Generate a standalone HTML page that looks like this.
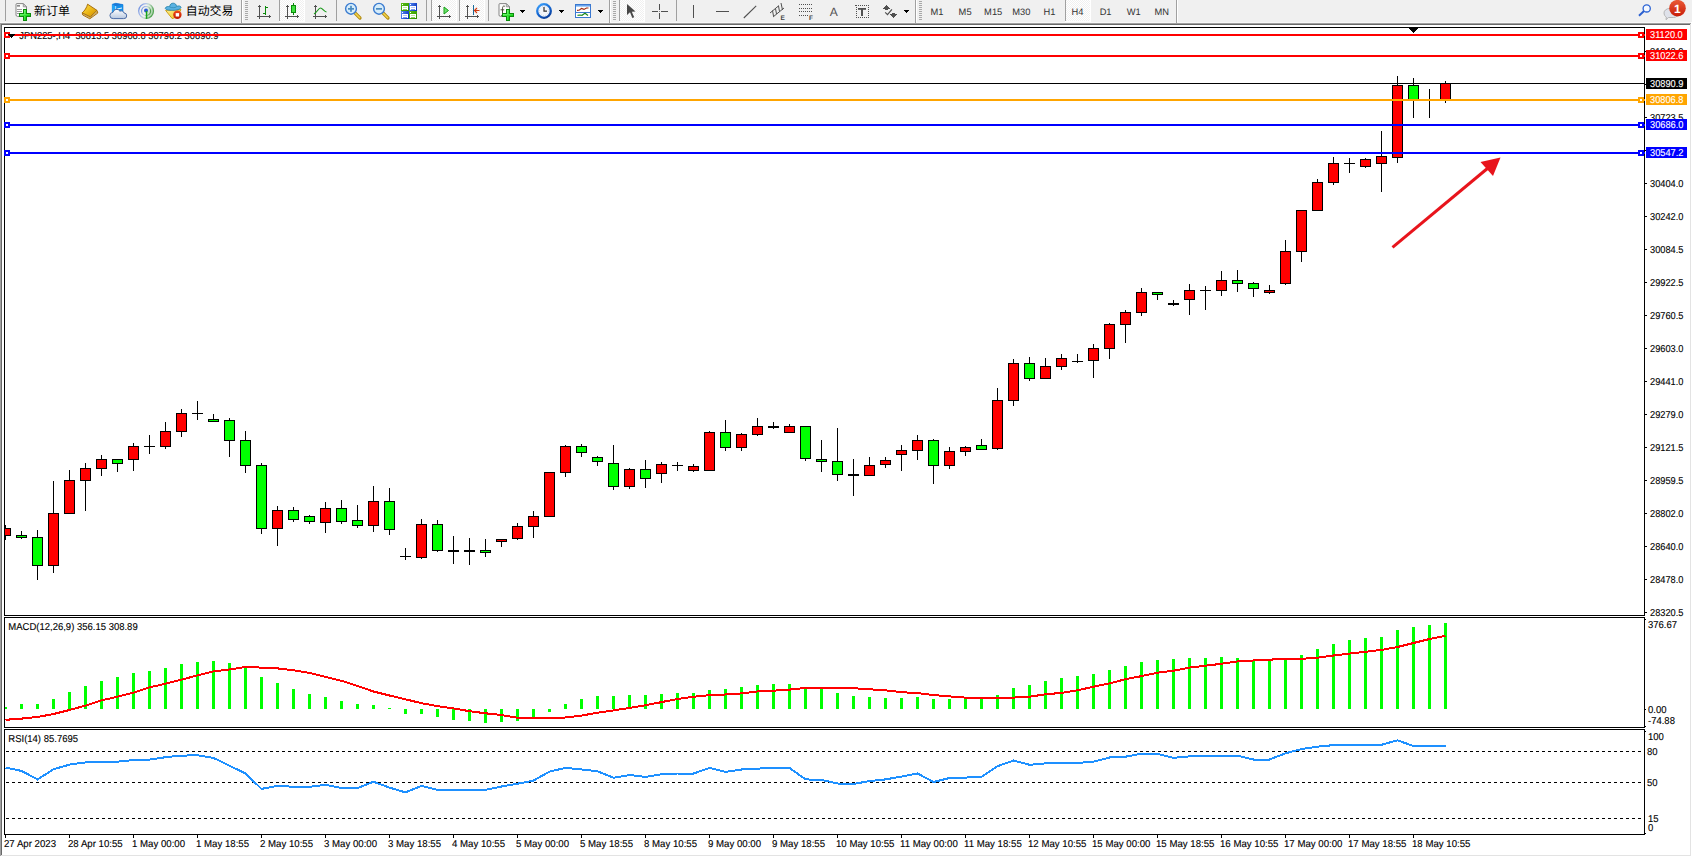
<!DOCTYPE html>
<html><head><meta charset="utf-8"><title>JPN225 H4</title>
<style>html,body{margin:0;padding:0;background:#fff;overflow:hidden}svg{display:block}text{white-space:pre}</style>
</head><body>
<svg width="1692" height="857" viewBox="0 0 1692 857" font-family='"Liberation Sans","Noto Sans CJK SC",sans-serif' shape-rendering="crispEdges" text-rendering="geometricPrecision">
<defs><pattern id="chk" width="2" height="2" patternUnits="userSpaceOnUse"><rect width="2" height="2" fill="#fff"/><rect width="1" height="1" fill="#f0f0f0"/><rect x="1" y="1" width="1" height="1" fill="#f0f0f0"/></pattern></defs>
<rect x="0" y="0" width="1692" height="857" fill="#fff"/>
<rect x="0" y="0" width="1692" height="22" fill="#f0f0f0"/>
<rect x="0" y="22" width="1692" height="1" fill="#f8f8f8"/>
<rect x="0" y="23" width="1691" height="1" fill="#a0a0a0"/>
<rect x="0" y="24" width="1690" height="1" fill="#696969"/>
<rect x="1690" y="24" width="1" height="832" fill="#e3e3e3"/>
<rect x="0" y="855" width="1691" height="1" fill="#e3e3e3"/>
<rect x="0" y="24" width="1" height="832" fill="#a0a0a0"/>
<rect x="1" y="25" width="1" height="830" fill="#696969"/>
<rect x="1691" y="22" width="1" height="835" fill="#fff"/>
<rect x="0" y="856" width="1692" height="1" fill="#fff"/>
<g id="toolbar">
<rect x="5" y="0" width="1" height="21" fill="#a0a0a0" />
<defs><linearGradient id="gp" x1="0" y1="0" x2="1" y2="1"><stop offset="0" stop-color="#7dff7d"/><stop offset="1" stop-color="#00c800"/></linearGradient></defs>
<g shape-rendering="geometricPrecision">
<path d="M16.5,3.6 h6.8 l3.2,3.2 v9.6 h-9 q-1.5,0 -1.5,-1.5 v-10 q0,-1.3 0.5,-1.3 z" fill="#fcfcfc" stroke="#858585" stroke-width="1"/>
<path d="M23.3,3.6 v3.2 h3.2 z" fill="#dcdcdc" stroke="#858585" stroke-width="0.8"/>
</g>
<rect x="17" y="5" width="3" height="1" fill="#8a8a8a" />
<rect x="17" y="6" width="3" height="1" fill="#b0b0b0" />
<rect x="17" y="9" width="5" height="1" fill="#9a9a9a" />
<rect x="17" y="11" width="5" height="1" fill="#9a9a9a" />
<rect x="17" y="13" width="3" height="1" fill="#9a9a9a" />
<rect x="23" y="9" width="4" height="12" fill="#0b8c0b" />
<rect x="19" y="13" width="12" height="4" fill="#0b8c0b" />
<rect x="24" y="10" width="2" height="10" fill="url(#gp)" />
<rect x="20" y="14" width="10" height="2" fill="url(#gp)" />
<text x="34" y="15" font-size="12" fill="#000">新订单</text>
<defs><linearGradient id="gb" x1="0" y1="0" x2="1" y2="1"><stop offset="0" stop-color="#ffe24a"/><stop offset="0.6" stop-color="#e8b010"/><stop offset="1" stop-color="#c88a08"/></linearGradient></defs>
<g shape-rendering="geometricPrecision">
<path d="M82.2,12.8 L82.8,15 L89.8,18.8 L97.8,13 L97,10.4 Z" fill="#e6d296" stroke="#a8700c" stroke-width="1"/>
<path d="M87.6,4.2 L97,10.4 L90.3,16.8 L82.2,12.8 C84.5,11 86.8,7.5 87.6,4.2 Z" fill="url(#gb)" stroke="#a8700c" stroke-width="1"/>
<path d="M83.2,14 L90.2,17.6 L97.2,11.8" fill="none" stroke="#b8862a" stroke-width="0.7"/>
</g>
<defs><linearGradient id="gc" x1="0" y1="0" x2="0" y2="1"><stop offset="0" stop-color="#ffffff"/><stop offset="1" stop-color="#b8c8e0"/></linearGradient></defs>
<g shape-rendering="geometricPrecision">
<path d="M112.3,4.2 L115.8,3.3 L123,4.6 L123,13 L112.3,13 Z" fill="#1590ea" stroke="#1378d8" stroke-width="0.6"/>
<path d="M112.3,4.2 L115.6,6 L115.6,13 L112.3,13 Z" fill="#22a4f6"/>
<path d="M112.3,4.2 L115.8,3.3 L123,4.6 L115.6,6 Z" fill="#1a78d8"/>
<path d="M115.7,6 V13" stroke="#d8f0ff" stroke-width="0.8"/>
<path d="M117.2,8.6 L122,7.4 L122,8.6 L117.2,9.6 Z" fill="#e8f6ff"/>
<path d="M113.2,18.6 a3.1,3.1 0 0 1 -0.3,-6.2 a3.8,3.8 0 0 1 7,-1.2 a3,3 0 0 1 4.2,1.8 a2.8,2.8 0 0 1 -0.4,5.6 z" fill="url(#gc)" stroke="#4c6ca6" stroke-width="1"/>
</g>
<defs><linearGradient id="gs" x1="0" y1="0" x2="1" y2="0.4"><stop offset="0" stop-color="#3a68d8"/><stop offset="0.4" stop-color="#9ab2ea"/><stop offset="0.62" stop-color="#b4d4c0"/><stop offset="1" stop-color="#3a963a"/></linearGradient><linearGradient id="gsf" x1="0" y1="0" x2="1" y2="1"><stop offset="0" stop-color="#e8f4e8" stop-opacity="0.2"/><stop offset="1" stop-color="#5cb45c" stop-opacity="0.85"/></linearGradient></defs>
<g shape-rendering="geometricPrecision" fill="none">
<path d="M146.6,3.2 A7.9,7.9 0 0 1 146.6,18.9 Z" fill="url(#gsf)"/>
<circle cx="146.1" cy="11" r="7.4" stroke="url(#gs)" stroke-width="1.2" opacity="0.8"/>
<circle cx="146.1" cy="11" r="4.5" stroke="url(#gs)" stroke-width="1.2" opacity="0.85"/>
<circle cx="146" cy="10.6" r="2" fill="#2a5cd2"/>
<rect x="145.8" y="11" width="1.5" height="7.9" fill="#18a418"/>
</g>
<defs><linearGradient id="gy" x1="0" y1="0" x2="1" y2="1"><stop offset="0" stop-color="#fff08a"/><stop offset="1" stop-color="#f0c020"/></linearGradient><linearGradient id="gr" x1="0" y1="0" x2="0" y2="1"><stop offset="0" stop-color="#f04a18"/><stop offset="1" stop-color="#c01800"/></linearGradient></defs>
<g shape-rendering="geometricPrecision">
<path d="M165.6,10.4 L181,9.6 L176.5,17 L172.2,18.6 Z" fill="url(#gy)" stroke="#c89a08" stroke-width="0.9"/>
<path d="M165.3,8.2 C166,6.2 168.5,6.4 169.6,6.6 C170,4 171.5,3.2 173.2,3.2 C175,3.2 176.2,4.2 176.6,6.4 C178.5,5.6 180.8,5.8 181,7.4 C180.6,9.4 176.5,10.3 172.8,10.3 C169,10.3 165.2,9.8 165.3,8.2 Z" fill="#5ab2e2" stroke="#2a86ae" stroke-width="0.9"/>
<path d="M169.8,7 C171.5,8 175,8 176.5,6.8" fill="none" stroke="#2a86ae" stroke-width="0.7"/>
<circle cx="177.4" cy="14.8" r="4.2" fill="url(#gr)"/>
<rect x="175.7" y="13.1" width="3.4" height="3.4" fill="#fff"/>
</g>
<text x="185.8" y="15" font-size="12" fill="#000" textLength="47.5" lengthAdjust="spacingAndGlyphs">自动交易</text>
<rect x="241" y="0" width="1" height="23" fill="#a0a0a0" />
<rect x="242" y="0" width="1" height="22" fill="#fff" />
<rect x="245" y="1" width="3" height="1" fill="#a8a8a8" />
<rect x="245" y="3" width="3" height="1" fill="#a8a8a8" />
<rect x="245" y="5" width="3" height="1" fill="#a8a8a8" />
<rect x="245" y="7" width="3" height="1" fill="#a8a8a8" />
<rect x="245" y="9" width="3" height="1" fill="#a8a8a8" />
<rect x="245" y="11" width="3" height="1" fill="#a8a8a8" />
<rect x="245" y="13" width="3" height="1" fill="#a8a8a8" />
<rect x="245" y="15" width="3" height="1" fill="#a8a8a8" />
<rect x="245" y="17" width="3" height="1" fill="#a8a8a8" />
<rect x="245" y="19" width="3" height="1" fill="#a8a8a8" />
<rect x="259" y="5" width="1" height="14" fill="#505050" />
<rect x="258" y="6" width="3" height="1" fill="#505050" />
<rect x="257" y="16" width="14" height="1" fill="#505050" />
<rect x="269" y="15" width="1" height="3" fill="#505050" />
<rect x="265" y="6" width="1" height="9" fill="#0a8a0a" />
<rect x="266" y="7" width="2" height="1" fill="#0a8a0a" />
<rect x="263" y="13" width="2" height="1" fill="#0a8a0a" />
<rect x="279" y="0" width="1" height="21" fill="#a0a0a0" />
<rect x="280" y="0" width="24" height="21" fill="url(#chk)" />
<rect x="279" y="21" width="26" height="1" fill="#fff" />
<rect x="304" y="0" width="1" height="21" fill="#fff" />
<rect x="287" y="5" width="1" height="14" fill="#505050" />
<rect x="286" y="6" width="3" height="1" fill="#505050" />
<rect x="285" y="16" width="14" height="1" fill="#505050" />
<rect x="297" y="15" width="1" height="3" fill="#505050" />
<rect x="293" y="3" width="1" height="12" fill="#0a8a0a" />
<rect x="291" y="5" width="5" height="8" fill="#0a8a0a" />
<rect x="292" y="6" width="3" height="6" fill="#3fe03f" />
<rect x="315" y="5" width="1" height="14" fill="#505050" />
<rect x="314" y="6" width="3" height="1" fill="#505050" />
<rect x="313" y="16" width="14" height="1" fill="#505050" />
<rect x="325" y="15" width="1" height="3" fill="#505050" />
<path d="M314,14 C317,12.5 318.5,8 320.5,8 C322.5,8 324,11.5 326.5,12" fill="none" stroke="#1a9a1a" stroke-width="1.2" shape-rendering="geometricPrecision"/>
<rect x="336" y="0" width="1" height="21" fill="#a0a0a0" />
<g shape-rendering="geometricPrecision">
<line x1="355" y1="13" x2="360" y2="18" stroke="#b08a10" stroke-width="3.2" stroke-linecap="round"/>
<line x1="355.3" y1="13.3" x2="359.7" y2="17.7" stroke="#f2d24a" stroke-width="1.6" stroke-linecap="round"/>
<circle cx="351" cy="8.8" r="5.4" fill="#d6ecfa" stroke="#3a7bd0" stroke-width="1.4"/>
<rect x="348" y="8" width="6" height="1.7" fill="#4a8cc0"/>
<rect x="350.15" y="5.8" width="1.7" height="6" fill="#4a8cc0"/>
</g>
<g shape-rendering="geometricPrecision">
<line x1="383" y1="13" x2="388" y2="18" stroke="#b08a10" stroke-width="3.2" stroke-linecap="round"/>
<line x1="383.3" y1="13.3" x2="387.7" y2="17.7" stroke="#f2d24a" stroke-width="1.6" stroke-linecap="round"/>
<circle cx="379" cy="8.8" r="5.4" fill="#d6ecfa" stroke="#3a7bd0" stroke-width="1.4"/>
<rect x="376" y="8" width="6" height="1.7" fill="#4a8cc0"/>
</g>
<defs><linearGradient id="gtg" x1="0" y1="0" x2="1" y2="1"><stop offset="0" stop-color="#58c010"/><stop offset="1" stop-color="#2c8c00"/></linearGradient><linearGradient id="gtb" x1="0" y1="0.3" x2="1" y2="0.6"><stop offset="0" stop-color="#5284ee"/><stop offset="1" stop-color="#0c36c0"/></linearGradient></defs>
<rect x="401" y="3" width="8" height="8" fill="url(#gtg)" />
<rect x="402" y="4" width="1" height="1" fill="#fff" />
<rect x="402" y="6" width="6" height="3" fill="#fff" />
<rect x="403" y="7" width="4" height="1" fill="#bfe4a4" />
<rect x="402" y="9" width="1" height="1" fill="#fff" />
<rect x="407" y="9" width="1" height="1" fill="#fff" />
<rect x="403" y="9" width="4" height="1" fill="#8cd060" />
<rect x="409" y="3" width="8" height="8" fill="url(#gtb)" />
<rect x="410" y="4" width="1" height="1" fill="#fff" />
<rect x="410" y="6" width="6" height="3" fill="#fff" />
<rect x="411" y="7" width="4" height="1" fill="#b4c6f4" />
<rect x="410" y="9" width="1" height="1" fill="#fff" />
<rect x="415" y="9" width="1" height="1" fill="#fff" />
<rect x="411" y="9" width="4" height="1" fill="#7c9cec" />
<rect x="401" y="11" width="8" height="8" fill="url(#gtb)" />
<rect x="402" y="12" width="1" height="1" fill="#fff" />
<rect x="402" y="14" width="6" height="3" fill="#fff" />
<rect x="403" y="15" width="4" height="1" fill="#b4c6f4" />
<rect x="402" y="17" width="1" height="1" fill="#fff" />
<rect x="407" y="17" width="1" height="1" fill="#fff" />
<rect x="403" y="17" width="4" height="1" fill="#7c9cec" />
<rect x="409" y="11" width="8" height="8" fill="url(#gtg)" />
<rect x="410" y="12" width="1" height="1" fill="#fff" />
<rect x="410" y="14" width="6" height="3" fill="#fff" />
<rect x="411" y="15" width="4" height="1" fill="#bfe4a4" />
<rect x="410" y="17" width="1" height="1" fill="#fff" />
<rect x="415" y="17" width="1" height="1" fill="#fff" />
<rect x="411" y="17" width="4" height="1" fill="#8cd060" />
<rect x="426" y="0" width="1" height="21" fill="#a0a0a0" />
<rect x="431" y="0" width="1" height="21" fill="#a0a0a0" />
<rect x="432" y="0" width="24" height="21" fill="url(#chk)" />
<rect x="431" y="21" width="26" height="1" fill="#fff" />
<rect x="456" y="0" width="1" height="21" fill="#fff" />
<rect x="439" y="5" width="1" height="14" fill="#505050" />
<rect x="438" y="6" width="3" height="1" fill="#505050" />
<rect x="437" y="16" width="14" height="1" fill="#505050" />
<rect x="449" y="15" width="1" height="3" fill="#505050" />
<polygon points="444,7 448.5,10.5 444,14" fill="#6ae06a" stroke="#18a018" stroke-width="1" shape-rendering="geometricPrecision"/>
<rect x="459" y="0" width="1" height="21" fill="#a0a0a0" />
<rect x="460" y="0" width="24" height="21" fill="url(#chk)" />
<rect x="459" y="21" width="26" height="1" fill="#fff" />
<rect x="484" y="0" width="1" height="21" fill="#fff" />
<rect x="467" y="5" width="1" height="14" fill="#505050" />
<rect x="466" y="6" width="3" height="1" fill="#505050" />
<rect x="465" y="16" width="14" height="1" fill="#505050" />
<rect x="477" y="15" width="1" height="3" fill="#505050" />
<rect x="473" y="5" width="1" height="10" fill="#1a6a9a" />
<path d="M479.5,10.5 h-5 M477,8 l-2.5,2.5 l2.5,2.5" fill="none" stroke="#d03a10" stroke-width="1.2" shape-rendering="geometricPrecision"/>
<rect x="488" y="0" width="1" height="21" fill="#a0a0a0" />
<g shape-rendering="geometricPrecision">
<path d="M499.5,3.6 h6.8 l3.2,3.2 v9.6 h-9 q-1.5,0 -1.5,-1.5 v-10 q0,-1.3 0.5,-1.3 z" fill="#fcfcfc" stroke="#858585" stroke-width="1"/>
<path d="M506.3,3.6 v3.2 h3.2 z" fill="#dcdcdc" stroke="#858585" stroke-width="0.8"/>
</g>
<path d="M504.8,6.2 c-2.2,-0.6 -2.3,1 -2.3,2.6 v5.4 c0,1.2 -0.6,1.4 -1.4,1.2 M500.6,9.8 h3.6" fill="none" stroke="#4a4a3a" stroke-width="1" shape-rendering="geometricPrecision"/>
<rect x="506" y="9" width="4" height="12" fill="#0b8c0b" />
<rect x="502" y="13" width="12" height="4" fill="#0b8c0b" />
<rect x="507" y="10" width="2" height="10" fill="url(#gp)" />
<rect x="503" y="14" width="10" height="2" fill="url(#gp)" />
<rect x="520" y="10" width="5" height="1" fill="#000" />
<rect x="521" y="11" width="3" height="1" fill="#000" />
<rect x="522" y="12" width="1" height="1" fill="#000" />
<defs><linearGradient id="gk" x1="0.2" y1="0" x2="0.8" y2="1"><stop offset="0" stop-color="#3a9cf8"/><stop offset="0.5" stop-color="#1466d0"/><stop offset="1" stop-color="#083a96"/></linearGradient></defs>
<g shape-rendering="geometricPrecision">
<circle cx="544" cy="11" r="6.8" fill="#f2f5fa" stroke="url(#gk)" stroke-width="2.3"/>
<circle cx="544" cy="11" r="4.6" fill="none" stroke="#b8c4d4" stroke-width="0.9" stroke-dasharray="0.8 1.6"/>
<path d="M544,7 V11.2 H547" fill="none" stroke="#303030" stroke-width="1.2"/>
</g>
<rect x="559" y="10" width="5" height="1" fill="#000" />
<rect x="560" y="11" width="3" height="1" fill="#000" />
<rect x="561" y="12" width="1" height="1" fill="#000" />
<rect x="575" y="4" width="16" height="14" fill="#3a78d0" />
<rect x="576" y="5" width="14" height="1" fill="#6aa4ec" />
<rect x="576" y="6" width="14" height="1" fill="#a8ccf6" />
<rect x="576" y="7" width="14" height="5" fill="#fff" />
<rect x="576" y="13" width="14" height="4" fill="#fff" />
<path d="M577,10.3 l2.5,-0.3 l2,-1.6 l2.5,1 l2.5,-1.4 h2" fill="none" stroke="#a02a10" stroke-width="1.2" shape-rendering="geometricPrecision"/>
<path d="M577.5,15.3 l2.5,-0.3 l2,0.3 l3,-2 l3,2.2" fill="none" stroke="#1a8a1a" stroke-width="1.2" shape-rendering="geometricPrecision"/>
<rect x="598" y="10" width="5" height="1" fill="#000" />
<rect x="599" y="11" width="3" height="1" fill="#000" />
<rect x="600" y="12" width="1" height="1" fill="#000" />
<rect x="609" y="0" width="1" height="23" fill="#a0a0a0" />
<rect x="610" y="0" width="1" height="22" fill="#fff" />
<rect x="613" y="1" width="3" height="1" fill="#a8a8a8" />
<rect x="613" y="3" width="3" height="1" fill="#a8a8a8" />
<rect x="613" y="5" width="3" height="1" fill="#a8a8a8" />
<rect x="613" y="7" width="3" height="1" fill="#a8a8a8" />
<rect x="613" y="9" width="3" height="1" fill="#a8a8a8" />
<rect x="613" y="11" width="3" height="1" fill="#a8a8a8" />
<rect x="613" y="13" width="3" height="1" fill="#a8a8a8" />
<rect x="613" y="15" width="3" height="1" fill="#a8a8a8" />
<rect x="613" y="17" width="3" height="1" fill="#a8a8a8" />
<rect x="613" y="19" width="3" height="1" fill="#a8a8a8" />
<rect x="619" y="0" width="1" height="21" fill="#a0a0a0" />
<rect x="620" y="0" width="24" height="21" fill="url(#chk)" />
<rect x="619" y="21" width="26" height="1" fill="#fff" />
<rect x="644" y="0" width="1" height="21" fill="#fff" />
<path d="M627,4 L627,15 L630,12.3 L632.3,18 L634.2,17.2 L631.8,11.7 L635.5,11.5 Z" fill="#484848" shape-rendering="geometricPrecision"/>
<rect x="659" y="4" width="1" height="6" fill="#505050" />
<rect x="659" y="13" width="1" height="6" fill="#505050" />
<rect x="652" y="11" width="6" height="1" fill="#505050" />
<rect x="661" y="11" width="7" height="1" fill="#505050" />
<rect x="659" y="11" width="1" height="1" fill="#888" />
<rect x="676" y="0" width="1" height="21" fill="#a0a0a0" />
<rect x="693" y="5" width="1" height="13" fill="#505050" />
<rect x="716" y="11" width="13" height="1" fill="#505050" />
<line x1="743.8" y1="18" x2="756.2" y2="5.8" stroke="#505050" stroke-width="1.1" shape-rendering="geometricPrecision"/>
<g shape-rendering="geometricPrecision" stroke="#505050" stroke-width="1" fill="none">
<path d="M770,13 L779,5.5 M773,17 L784,8 M772.5,10.5 l1,5.5 M775.5,8.5 l1,5.5 M778.5,6 l1,5.5 M781,3 l1.5,7"/>
</g>
<text x="780.5" y="19.6" font-size="6.5" font-weight="bold" fill="#404040">E</text>
<rect x="799" y="4" width="1" height="1" fill="#505050" />
<rect x="801" y="4" width="1" height="1" fill="#505050" />
<rect x="803" y="4" width="1" height="1" fill="#505050" />
<rect x="805" y="4" width="1" height="1" fill="#505050" />
<rect x="807" y="4" width="1" height="1" fill="#505050" />
<rect x="809" y="4" width="1" height="1" fill="#505050" />
<rect x="811" y="4" width="1" height="1" fill="#505050" />
<rect x="799" y="8" width="1" height="1" fill="#505050" />
<rect x="801" y="8" width="1" height="1" fill="#505050" />
<rect x="803" y="8" width="1" height="1" fill="#505050" />
<rect x="805" y="8" width="1" height="1" fill="#505050" />
<rect x="807" y="8" width="1" height="1" fill="#505050" />
<rect x="809" y="8" width="1" height="1" fill="#505050" />
<rect x="811" y="8" width="1" height="1" fill="#505050" />
<rect x="799" y="11" width="1" height="1" fill="#505050" />
<rect x="801" y="11" width="1" height="1" fill="#505050" />
<rect x="803" y="11" width="1" height="1" fill="#505050" />
<rect x="805" y="11" width="1" height="1" fill="#505050" />
<rect x="807" y="11" width="1" height="1" fill="#505050" />
<rect x="809" y="11" width="1" height="1" fill="#505050" />
<rect x="811" y="11" width="1" height="1" fill="#505050" />
<rect x="799" y="15" width="1" height="1" fill="#505050" />
<rect x="801" y="15" width="1" height="1" fill="#505050" />
<rect x="803" y="15" width="1" height="1" fill="#505050" />
<rect x="805" y="15" width="1" height="1" fill="#505050" />
<rect x="807" y="15" width="1" height="1" fill="#505050" />
<text x="809" y="19.6" font-size="6.5" font-weight="bold" fill="#404040">F</text>
<text x="833.7" y="15.8" font-size="12" fill="#505050" text-anchor="middle">A</text>
<rect x="856" y="5" width="1" height="1" fill="#505050" />
<rect x="856" y="17" width="1" height="1" fill="#505050" />
<rect x="858" y="5" width="1" height="1" fill="#505050" />
<rect x="858" y="17" width="1" height="1" fill="#505050" />
<rect x="860" y="5" width="1" height="1" fill="#505050" />
<rect x="860" y="17" width="1" height="1" fill="#505050" />
<rect x="862" y="5" width="1" height="1" fill="#505050" />
<rect x="862" y="17" width="1" height="1" fill="#505050" />
<rect x="864" y="5" width="1" height="1" fill="#505050" />
<rect x="864" y="17" width="1" height="1" fill="#505050" />
<rect x="866" y="5" width="1" height="1" fill="#505050" />
<rect x="866" y="17" width="1" height="1" fill="#505050" />
<rect x="868" y="5" width="1" height="1" fill="#505050" />
<rect x="868" y="17" width="1" height="1" fill="#505050" />
<rect x="856" y="5" width="1" height="1" fill="#505050" />
<rect x="868" y="5" width="1" height="1" fill="#505050" />
<rect x="856" y="7" width="1" height="1" fill="#505050" />
<rect x="868" y="7" width="1" height="1" fill="#505050" />
<rect x="856" y="9" width="1" height="1" fill="#505050" />
<rect x="868" y="9" width="1" height="1" fill="#505050" />
<rect x="856" y="11" width="1" height="1" fill="#505050" />
<rect x="868" y="11" width="1" height="1" fill="#505050" />
<rect x="856" y="13" width="1" height="1" fill="#505050" />
<rect x="868" y="13" width="1" height="1" fill="#505050" />
<rect x="856" y="15" width="1" height="1" fill="#505050" />
<rect x="868" y="15" width="1" height="1" fill="#505050" />
<rect x="856" y="17" width="1" height="1" fill="#505050" />
<rect x="868" y="17" width="1" height="1" fill="#505050" />
<rect x="855" y="5" width="2" height="1" fill="#505050" />
<rect x="858" y="8" width="8" height="1" fill="#505050" />
<rect x="858" y="9" width="8" height="1" fill="#707070" />
<rect x="861" y="9" width="2" height="7" fill="#505050" />
<rect x="886" y="5" width="1" height="1" fill="#505050" />
<rect x="885" y="6" width="3" height="1" fill="#505050" />
<rect x="884" y="7" width="5" height="1" fill="#505050" />
<rect x="883" y="8" width="7" height="1" fill="#505050" />
<rect x="885" y="9" width="3" height="1" fill="#505050" />
<rect x="892" y="13" width="3" height="1" fill="#505050" />
<rect x="890" y="14" width="7" height="1" fill="#505050" />
<rect x="891" y="15" width="5" height="1" fill="#505050" />
<rect x="892" y="16" width="3" height="1" fill="#505050" />
<rect x="893" y="17" width="1" height="1" fill="#505050" />
<path d="M885.2,12.4 l2.3,2.3 l4.4,-5.4" fill="none" stroke="#505050" stroke-width="1.2" shape-rendering="geometricPrecision"/>
<rect x="904" y="10" width="5" height="1" fill="#000" />
<rect x="905" y="11" width="3" height="1" fill="#000" />
<rect x="906" y="12" width="1" height="1" fill="#000" />
<rect x="915" y="0" width="1" height="23" fill="#a0a0a0" />
<rect x="916" y="0" width="1" height="22" fill="#fff" />
<rect x="919" y="1" width="3" height="1" fill="#a8a8a8" />
<rect x="919" y="3" width="3" height="1" fill="#a8a8a8" />
<rect x="919" y="5" width="3" height="1" fill="#a8a8a8" />
<rect x="919" y="7" width="3" height="1" fill="#a8a8a8" />
<rect x="919" y="9" width="3" height="1" fill="#a8a8a8" />
<rect x="919" y="11" width="3" height="1" fill="#a8a8a8" />
<rect x="919" y="13" width="3" height="1" fill="#a8a8a8" />
<rect x="919" y="15" width="3" height="1" fill="#a8a8a8" />
<rect x="919" y="17" width="3" height="1" fill="#a8a8a8" />
<rect x="919" y="19" width="3" height="1" fill="#a8a8a8" />
<rect x="1065" y="0" width="1" height="21" fill="#a0a0a0" />
<rect x="1066" y="0" width="24" height="21" fill="url(#chk)" />
<rect x="1065" y="21" width="26" height="1" fill="#fff" />
<rect x="1090" y="0" width="1" height="21" fill="#fff" />
<text x="937.0" y="15" font-size="9.33" fill="#333" text-anchor="middle">M1</text>
<text x="965.1" y="15" font-size="9.33" fill="#333" text-anchor="middle">M5</text>
<text x="993.2" y="15" font-size="9.33" fill="#333" text-anchor="middle">M15</text>
<text x="1021.3" y="15" font-size="9.33" fill="#333" text-anchor="middle">M30</text>
<text x="1049.4" y="15" font-size="9.33" fill="#333" text-anchor="middle">H1</text>
<text x="1077.5" y="15" font-size="9.33" fill="#333" text-anchor="middle">H4</text>
<text x="1105.6" y="15" font-size="9.33" fill="#333" text-anchor="middle">D1</text>
<text x="1133.7" y="15" font-size="9.33" fill="#333" text-anchor="middle">W1</text>
<text x="1161.8" y="15" font-size="9.33" fill="#333" text-anchor="middle">MN</text>
<rect x="1176" y="0" width="1" height="23" fill="#a0a0a0" />
<rect x="1177" y="0" width="1" height="22" fill="#fff" />
<g shape-rendering="geometricPrecision">
<line x1="1644" y1="11" x2="1639" y2="15.7" stroke="#2a5fd0" stroke-width="2"/>
<circle cx="1646.7" cy="8.4" r="3.6" fill="#f4f8ff" stroke="#2a62d4" stroke-width="1.3"/>
<path d="M1664,13 a5.5,4.5 0 0 1 5.5,-4.5 h4 a5,4.5 0 0 1 0,9 h-5 l-2.5,2.2 l0.3,-2.6 a4.8,4.5 0 0 1 -2.3,-4.1 z" fill="#dfe2ea" stroke="#a8a8a8" stroke-width="0.8"/>
<defs><linearGradient id="gbd" x1="0" y1="0" x2="0" y2="1"><stop offset="0" stop-color="#ea5a36"/><stop offset="1" stop-color="#c81c08"/></linearGradient></defs>
<circle cx="1677.5" cy="8.2" r="8.3" fill="url(#gbd)"/>
<text x="1677.3" y="12.8" font-size="12" font-weight="bold" fill="#fff" text-anchor="middle">1</text>
</g>
</g>
<rect x="4" y="27" width="1641" height="1" fill="#000"/>
<rect x="4" y="615" width="1641" height="1" fill="#000"/>
<rect x="4" y="27" width="1" height="589" fill="#000"/>
<rect x="1644" y="27" width="1" height="589" fill="#000"/>
<rect x="4" y="617" width="1641" height="1" fill="#000"/>
<rect x="4" y="727" width="1641" height="1" fill="#000"/>
<rect x="4" y="617" width="1" height="111" fill="#000"/>
<rect x="1644" y="617" width="1" height="111" fill="#000"/>
<rect x="4" y="729" width="1641" height="1" fill="#000"/>
<rect x="4" y="834" width="1641" height="1" fill="#000"/>
<rect x="4" y="729" width="1" height="106" fill="#000"/>
<rect x="1644" y="729" width="1" height="106" fill="#000"/>
<rect x="1645" y="833" width="1" height="1" fill="#000"/>
<text transform="translate(19.3,39) scale(0.935,1)" fill="#000" stroke="#000" stroke-width="0.12" font-size="10">JPN225-,H4&#160;&#160;30813.5 30908.8 30796.2 30890.9</text>
<rect x="5" y="525" width="1" height="15" fill="#000"/>
<rect x="0" y="528" width="11" height="8" fill="#000"/>
<rect x="1" y="529" width="9" height="6" fill="#f00"/>
<rect x="21" y="531" width="1" height="8" fill="#000"/>
<rect x="16" y="535" width="11" height="3" fill="#000"/>
<rect x="17" y="536" width="9" height="1" fill="#0f0"/>
<rect x="37" y="530" width="1" height="50" fill="#000"/>
<rect x="32" y="537" width="11" height="29" fill="#000"/>
<rect x="33" y="538" width="9" height="27" fill="#0f0"/>
<rect x="53" y="481" width="1" height="92" fill="#000"/>
<rect x="48" y="513" width="11" height="53" fill="#000"/>
<rect x="49" y="514" width="9" height="51" fill="#f00"/>
<rect x="69" y="470" width="1" height="44" fill="#000"/>
<rect x="64" y="480" width="11" height="34" fill="#000"/>
<rect x="65" y="481" width="9" height="32" fill="#f00"/>
<rect x="85" y="463" width="1" height="48" fill="#000"/>
<rect x="80" y="468" width="11" height="13" fill="#000"/>
<rect x="81" y="469" width="9" height="11" fill="#f00"/>
<rect x="101" y="455" width="1" height="21" fill="#000"/>
<rect x="96" y="459" width="11" height="10" fill="#000"/>
<rect x="97" y="460" width="9" height="8" fill="#f00"/>
<rect x="117" y="459" width="1" height="13" fill="#000"/>
<rect x="112" y="459" width="11" height="5" fill="#000"/>
<rect x="113" y="460" width="9" height="3" fill="#0f0"/>
<rect x="133" y="443" width="1" height="28" fill="#000"/>
<rect x="128" y="446" width="11" height="14" fill="#000"/>
<rect x="129" y="447" width="9" height="12" fill="#f00"/>
<rect x="149" y="435" width="1" height="19" fill="#000"/>
<rect x="144" y="446" width="11" height="1" fill="#000"/>
<rect x="165" y="422" width="1" height="27" fill="#000"/>
<rect x="160" y="431" width="11" height="16" fill="#000"/>
<rect x="161" y="432" width="9" height="14" fill="#f00"/>
<rect x="181" y="409" width="1" height="28" fill="#000"/>
<rect x="176" y="413" width="11" height="19" fill="#000"/>
<rect x="177" y="414" width="9" height="17" fill="#f00"/>
<rect x="197" y="401" width="1" height="19" fill="#000"/>
<rect x="192" y="413" width="11" height="1" fill="#000"/>
<rect x="213" y="414" width="1" height="8" fill="#000"/>
<rect x="208" y="419" width="11" height="3" fill="#000"/>
<rect x="209" y="420" width="9" height="1" fill="#0f0"/>
<rect x="229" y="418" width="1" height="39" fill="#000"/>
<rect x="224" y="420" width="11" height="21" fill="#000"/>
<rect x="225" y="421" width="9" height="19" fill="#0f0"/>
<rect x="245" y="431" width="1" height="42" fill="#000"/>
<rect x="240" y="440" width="11" height="26" fill="#000"/>
<rect x="241" y="441" width="9" height="24" fill="#0f0"/>
<rect x="261" y="463" width="1" height="71" fill="#000"/>
<rect x="256" y="465" width="11" height="64" fill="#000"/>
<rect x="257" y="466" width="9" height="62" fill="#0f0"/>
<rect x="277" y="506" width="1" height="40" fill="#000"/>
<rect x="272" y="510" width="11" height="19" fill="#000"/>
<rect x="273" y="511" width="9" height="17" fill="#f00"/>
<rect x="293" y="507" width="1" height="15" fill="#000"/>
<rect x="288" y="510" width="11" height="10" fill="#000"/>
<rect x="289" y="511" width="9" height="8" fill="#0f0"/>
<rect x="309" y="515" width="1" height="9" fill="#000"/>
<rect x="304" y="516" width="11" height="6" fill="#000"/>
<rect x="305" y="517" width="9" height="4" fill="#0f0"/>
<rect x="325" y="502" width="1" height="31" fill="#000"/>
<rect x="320" y="508" width="11" height="15" fill="#000"/>
<rect x="321" y="509" width="9" height="13" fill="#f00"/>
<rect x="341" y="500" width="1" height="24" fill="#000"/>
<rect x="336" y="508" width="11" height="14" fill="#000"/>
<rect x="337" y="509" width="9" height="12" fill="#0f0"/>
<rect x="357" y="505" width="1" height="23" fill="#000"/>
<rect x="352" y="520" width="11" height="6" fill="#000"/>
<rect x="353" y="521" width="9" height="4" fill="#0f0"/>
<rect x="373" y="486" width="1" height="46" fill="#000"/>
<rect x="368" y="501" width="11" height="25" fill="#000"/>
<rect x="369" y="502" width="9" height="23" fill="#f00"/>
<rect x="389" y="488" width="1" height="47" fill="#000"/>
<rect x="384" y="501" width="11" height="29" fill="#000"/>
<rect x="385" y="502" width="9" height="27" fill="#0f0"/>
<rect x="405" y="548" width="1" height="12" fill="#000"/>
<rect x="400" y="556" width="11" height="1" fill="#000"/>
<rect x="421" y="519" width="1" height="40" fill="#000"/>
<rect x="416" y="524" width="11" height="34" fill="#000"/>
<rect x="417" y="525" width="9" height="32" fill="#f00"/>
<rect x="437" y="520" width="1" height="32" fill="#000"/>
<rect x="432" y="524" width="11" height="27" fill="#000"/>
<rect x="433" y="525" width="9" height="25" fill="#0f0"/>
<rect x="453" y="536" width="1" height="28" fill="#000"/>
<rect x="448" y="550" width="11" height="2" fill="#000"/>
<rect x="469" y="538" width="1" height="27" fill="#000"/>
<rect x="464" y="550" width="11" height="2" fill="#000"/>
<rect x="485" y="539" width="1" height="18" fill="#000"/>
<rect x="480" y="550" width="11" height="3" fill="#000"/>
<rect x="481" y="551" width="9" height="1" fill="#0f0"/>
<rect x="501" y="539" width="1" height="8" fill="#000"/>
<rect x="496" y="539" width="11" height="3" fill="#000"/>
<rect x="497" y="540" width="9" height="1" fill="#f00"/>
<rect x="517" y="523" width="1" height="17" fill="#000"/>
<rect x="512" y="526" width="11" height="13" fill="#000"/>
<rect x="513" y="527" width="9" height="11" fill="#f00"/>
<rect x="533" y="511" width="1" height="27" fill="#000"/>
<rect x="528" y="516" width="11" height="11" fill="#000"/>
<rect x="529" y="517" width="9" height="9" fill="#f00"/>
<rect x="549" y="472" width="1" height="45" fill="#000"/>
<rect x="544" y="472" width="11" height="45" fill="#000"/>
<rect x="545" y="473" width="9" height="43" fill="#f00"/>
<rect x="565" y="445" width="1" height="32" fill="#000"/>
<rect x="560" y="446" width="11" height="27" fill="#000"/>
<rect x="561" y="447" width="9" height="25" fill="#f00"/>
<rect x="581" y="444" width="1" height="13" fill="#000"/>
<rect x="576" y="446" width="11" height="7" fill="#000"/>
<rect x="577" y="447" width="9" height="5" fill="#0f0"/>
<rect x="597" y="456" width="1" height="10" fill="#000"/>
<rect x="592" y="457" width="11" height="5" fill="#000"/>
<rect x="593" y="458" width="9" height="3" fill="#0f0"/>
<rect x="613" y="445" width="1" height="45" fill="#000"/>
<rect x="608" y="463" width="11" height="24" fill="#000"/>
<rect x="609" y="464" width="9" height="22" fill="#0f0"/>
<rect x="629" y="468" width="1" height="21" fill="#000"/>
<rect x="624" y="469" width="11" height="18" fill="#000"/>
<rect x="625" y="470" width="9" height="16" fill="#f00"/>
<rect x="645" y="460" width="1" height="28" fill="#000"/>
<rect x="640" y="469" width="11" height="10" fill="#000"/>
<rect x="641" y="470" width="9" height="8" fill="#0f0"/>
<rect x="661" y="462" width="1" height="21" fill="#000"/>
<rect x="656" y="464" width="11" height="10" fill="#000"/>
<rect x="657" y="465" width="9" height="8" fill="#f00"/>
<rect x="677" y="462" width="1" height="9" fill="#000"/>
<rect x="672" y="465" width="11" height="1" fill="#000"/>
<rect x="693" y="464" width="1" height="8" fill="#000"/>
<rect x="688" y="466" width="11" height="5" fill="#000"/>
<rect x="689" y="467" width="9" height="3" fill="#f00"/>
<rect x="709" y="431" width="1" height="40" fill="#000"/>
<rect x="704" y="432" width="11" height="39" fill="#000"/>
<rect x="705" y="433" width="9" height="37" fill="#f00"/>
<rect x="725" y="420" width="1" height="31" fill="#000"/>
<rect x="720" y="432" width="11" height="16" fill="#000"/>
<rect x="721" y="433" width="9" height="14" fill="#0f0"/>
<rect x="741" y="433" width="1" height="18" fill="#000"/>
<rect x="736" y="434" width="11" height="14" fill="#000"/>
<rect x="737" y="435" width="9" height="12" fill="#f00"/>
<rect x="757" y="418" width="1" height="18" fill="#000"/>
<rect x="752" y="426" width="11" height="9" fill="#000"/>
<rect x="753" y="427" width="9" height="7" fill="#f00"/>
<rect x="773" y="422" width="1" height="7" fill="#000"/>
<rect x="768" y="426" width="11" height="2" fill="#000"/>
<rect x="789" y="424" width="1" height="9" fill="#000"/>
<rect x="784" y="426" width="11" height="7" fill="#000"/>
<rect x="785" y="427" width="9" height="5" fill="#f00"/>
<rect x="805" y="426" width="1" height="35" fill="#000"/>
<rect x="800" y="426" width="11" height="33" fill="#000"/>
<rect x="801" y="427" width="9" height="31" fill="#0f0"/>
<rect x="821" y="440" width="1" height="32" fill="#000"/>
<rect x="816" y="459" width="11" height="3" fill="#000"/>
<rect x="817" y="460" width="9" height="1" fill="#0f0"/>
<rect x="837" y="428" width="1" height="53" fill="#000"/>
<rect x="832" y="461" width="11" height="14" fill="#000"/>
<rect x="833" y="462" width="9" height="12" fill="#0f0"/>
<rect x="853" y="459" width="1" height="37" fill="#000"/>
<rect x="848" y="474" width="11" height="2" fill="#000"/>
<rect x="869" y="457" width="1" height="19" fill="#000"/>
<rect x="864" y="465" width="11" height="11" fill="#000"/>
<rect x="865" y="466" width="9" height="9" fill="#f00"/>
<rect x="885" y="457" width="1" height="11" fill="#000"/>
<rect x="880" y="460" width="11" height="5" fill="#000"/>
<rect x="881" y="461" width="9" height="3" fill="#f00"/>
<rect x="901" y="445" width="1" height="26" fill="#000"/>
<rect x="896" y="450" width="11" height="5" fill="#000"/>
<rect x="897" y="451" width="9" height="3" fill="#f00"/>
<rect x="917" y="435" width="1" height="25" fill="#000"/>
<rect x="912" y="440" width="11" height="11" fill="#000"/>
<rect x="913" y="441" width="9" height="9" fill="#f00"/>
<rect x="933" y="439" width="1" height="45" fill="#000"/>
<rect x="928" y="440" width="11" height="26" fill="#000"/>
<rect x="929" y="441" width="9" height="24" fill="#0f0"/>
<rect x="949" y="447" width="1" height="22" fill="#000"/>
<rect x="944" y="451" width="11" height="15" fill="#000"/>
<rect x="945" y="452" width="9" height="13" fill="#f00"/>
<rect x="965" y="446" width="1" height="10" fill="#000"/>
<rect x="960" y="447" width="11" height="5" fill="#000"/>
<rect x="961" y="448" width="9" height="3" fill="#f00"/>
<rect x="981" y="439" width="1" height="11" fill="#000"/>
<rect x="976" y="445" width="11" height="5" fill="#000"/>
<rect x="977" y="446" width="9" height="3" fill="#0f0"/>
<rect x="997" y="388" width="1" height="62" fill="#000"/>
<rect x="992" y="400" width="11" height="49" fill="#000"/>
<rect x="993" y="401" width="9" height="47" fill="#f00"/>
<rect x="1013" y="359" width="1" height="47" fill="#000"/>
<rect x="1008" y="363" width="11" height="38" fill="#000"/>
<rect x="1009" y="364" width="9" height="36" fill="#f00"/>
<rect x="1029" y="357" width="1" height="24" fill="#000"/>
<rect x="1024" y="363" width="11" height="16" fill="#000"/>
<rect x="1025" y="364" width="9" height="14" fill="#0f0"/>
<rect x="1045" y="358" width="1" height="21" fill="#000"/>
<rect x="1040" y="366" width="11" height="13" fill="#000"/>
<rect x="1041" y="367" width="9" height="11" fill="#f00"/>
<rect x="1061" y="354" width="1" height="16" fill="#000"/>
<rect x="1056" y="358" width="11" height="9" fill="#000"/>
<rect x="1057" y="359" width="9" height="7" fill="#f00"/>
<rect x="1077" y="354" width="1" height="9" fill="#000"/>
<rect x="1072" y="361" width="11" height="1" fill="#000"/>
<rect x="1093" y="344" width="1" height="34" fill="#000"/>
<rect x="1088" y="348" width="11" height="13" fill="#000"/>
<rect x="1089" y="349" width="9" height="11" fill="#f00"/>
<rect x="1109" y="323" width="1" height="36" fill="#000"/>
<rect x="1104" y="324" width="11" height="25" fill="#000"/>
<rect x="1105" y="325" width="9" height="23" fill="#f00"/>
<rect x="1125" y="310" width="1" height="33" fill="#000"/>
<rect x="1120" y="312" width="11" height="13" fill="#000"/>
<rect x="1121" y="313" width="9" height="11" fill="#f00"/>
<rect x="1141" y="288" width="1" height="28" fill="#000"/>
<rect x="1136" y="292" width="11" height="21" fill="#000"/>
<rect x="1137" y="293" width="9" height="19" fill="#f00"/>
<rect x="1157" y="292" width="1" height="8" fill="#000"/>
<rect x="1152" y="292" width="11" height="3" fill="#000"/>
<rect x="1153" y="293" width="9" height="1" fill="#0f0"/>
<rect x="1173" y="300" width="1" height="6" fill="#000"/>
<rect x="1168" y="303" width="11" height="2" fill="#000"/>
<rect x="1189" y="284" width="1" height="31" fill="#000"/>
<rect x="1184" y="290" width="11" height="10" fill="#000"/>
<rect x="1185" y="291" width="9" height="8" fill="#f00"/>
<rect x="1205" y="286" width="1" height="24" fill="#000"/>
<rect x="1200" y="290" width="11" height="1" fill="#000"/>
<rect x="1221" y="271" width="1" height="25" fill="#000"/>
<rect x="1216" y="280" width="11" height="11" fill="#000"/>
<rect x="1217" y="281" width="9" height="9" fill="#f00"/>
<rect x="1237" y="270" width="1" height="22" fill="#000"/>
<rect x="1232" y="280" width="11" height="4" fill="#000"/>
<rect x="1233" y="281" width="9" height="2" fill="#0f0"/>
<rect x="1253" y="282" width="1" height="15" fill="#000"/>
<rect x="1248" y="283" width="11" height="6" fill="#000"/>
<rect x="1249" y="284" width="9" height="4" fill="#0f0"/>
<rect x="1269" y="285" width="1" height="9" fill="#000"/>
<rect x="1264" y="290" width="11" height="3" fill="#000"/>
<rect x="1265" y="291" width="9" height="1" fill="#f00"/>
<rect x="1285" y="240" width="1" height="45" fill="#000"/>
<rect x="1280" y="251" width="11" height="33" fill="#000"/>
<rect x="1281" y="252" width="9" height="31" fill="#f00"/>
<rect x="1301" y="210" width="1" height="52" fill="#000"/>
<rect x="1296" y="210" width="11" height="42" fill="#000"/>
<rect x="1297" y="211" width="9" height="40" fill="#f00"/>
<rect x="1317" y="179" width="1" height="32" fill="#000"/>
<rect x="1312" y="182" width="11" height="29" fill="#000"/>
<rect x="1313" y="183" width="9" height="27" fill="#f00"/>
<rect x="1333" y="157" width="1" height="28" fill="#000"/>
<rect x="1328" y="163" width="11" height="20" fill="#000"/>
<rect x="1329" y="164" width="9" height="18" fill="#f00"/>
<rect x="1349" y="158" width="1" height="15" fill="#000"/>
<rect x="1344" y="163" width="11" height="1" fill="#000"/>
<rect x="1365" y="158" width="1" height="10" fill="#000"/>
<rect x="1360" y="159" width="11" height="8" fill="#000"/>
<rect x="1361" y="160" width="9" height="6" fill="#f00"/>
<rect x="1381" y="131" width="1" height="61" fill="#000"/>
<rect x="1376" y="156" width="11" height="8" fill="#000"/>
<rect x="1377" y="157" width="9" height="6" fill="#f00"/>
<rect x="1397" y="76" width="1" height="87" fill="#000"/>
<rect x="1392" y="85" width="11" height="73" fill="#000"/>
<rect x="1393" y="86" width="9" height="71" fill="#f00"/>
<rect x="1413" y="78" width="1" height="40" fill="#000"/>
<rect x="1408" y="85" width="11" height="16" fill="#000"/>
<rect x="1409" y="86" width="9" height="14" fill="#0f0"/>
<rect x="1429" y="89" width="1" height="29" fill="#000"/>
<rect x="1424" y="99" width="11" height="1" fill="#000"/>
<rect x="1445" y="81" width="1" height="22" fill="#000"/>
<rect x="1440" y="83" width="11" height="18" fill="#000"/>
<rect x="1441" y="84" width="9" height="16" fill="#f00"/>
<rect x="2" y="28" width="2" height="587" fill="#fff"/>
<rect x="0" y="28" width="1" height="587" fill="#a0a0a0"/>
<rect x="1" y="28" width="1" height="587" fill="#696969"/>
<rect x="4" y="27" width="1" height="589" fill="#000"/>
<rect x="5" y="83" width="1640" height="1" fill="#000"/>
<rect x="1645" y="51" width="2" height="1" fill="#000"/>
<text transform="translate(1650,55) scale(0.925,1)" fill="#000" stroke="#000" stroke-width="0.12" font-size="10">31043.0</text>
<rect x="1645" y="84" width="2" height="1" fill="#000"/>
<text transform="translate(1650,88) scale(0.925,1)" fill="#000" stroke="#000" stroke-width="0.12" font-size="10">30885.5</text>
<rect x="1645" y="117" width="2" height="1" fill="#000"/>
<text transform="translate(1650,121) scale(0.925,1)" fill="#000" stroke="#000" stroke-width="0.12" font-size="10">30723.5</text>
<rect x="1645" y="150" width="2" height="1" fill="#000"/>
<text transform="translate(1650,154) scale(0.925,1)" fill="#000" stroke="#000" stroke-width="0.12" font-size="10">30566.0</text>
<rect x="1645" y="183" width="2" height="1" fill="#000"/>
<text transform="translate(1650,187) scale(0.925,1)" fill="#000" stroke="#000" stroke-width="0.12" font-size="10">30404.0</text>
<rect x="1645" y="216" width="2" height="1" fill="#000"/>
<text transform="translate(1650,220) scale(0.925,1)" fill="#000" stroke="#000" stroke-width="0.12" font-size="10">30242.0</text>
<rect x="1645" y="249" width="2" height="1" fill="#000"/>
<text transform="translate(1650,253) scale(0.925,1)" fill="#000" stroke="#000" stroke-width="0.12" font-size="10">30084.5</text>
<rect x="1645" y="282" width="2" height="1" fill="#000"/>
<text transform="translate(1650,286) scale(0.925,1)" fill="#000" stroke="#000" stroke-width="0.12" font-size="10">29922.5</text>
<rect x="1645" y="315" width="2" height="1" fill="#000"/>
<text transform="translate(1650,319) scale(0.925,1)" fill="#000" stroke="#000" stroke-width="0.12" font-size="10">29760.5</text>
<rect x="1645" y="348" width="2" height="1" fill="#000"/>
<text transform="translate(1650,352) scale(0.925,1)" fill="#000" stroke="#000" stroke-width="0.12" font-size="10">29603.0</text>
<rect x="1645" y="381" width="2" height="1" fill="#000"/>
<text transform="translate(1650,385) scale(0.925,1)" fill="#000" stroke="#000" stroke-width="0.12" font-size="10">29441.0</text>
<rect x="1645" y="414" width="2" height="1" fill="#000"/>
<text transform="translate(1650,418) scale(0.925,1)" fill="#000" stroke="#000" stroke-width="0.12" font-size="10">29279.0</text>
<rect x="1645" y="447" width="2" height="1" fill="#000"/>
<text transform="translate(1650,451) scale(0.925,1)" fill="#000" stroke="#000" stroke-width="0.12" font-size="10">29121.5</text>
<rect x="1645" y="480" width="2" height="1" fill="#000"/>
<text transform="translate(1650,484) scale(0.925,1)" fill="#000" stroke="#000" stroke-width="0.12" font-size="10">28959.5</text>
<rect x="1645" y="513" width="2" height="1" fill="#000"/>
<text transform="translate(1650,517) scale(0.925,1)" fill="#000" stroke="#000" stroke-width="0.12" font-size="10">28802.0</text>
<rect x="1645" y="546" width="2" height="1" fill="#000"/>
<text transform="translate(1650,550) scale(0.925,1)" fill="#000" stroke="#000" stroke-width="0.12" font-size="10">28640.0</text>
<rect x="1645" y="579" width="2" height="1" fill="#000"/>
<text transform="translate(1650,583) scale(0.925,1)" fill="#000" stroke="#000" stroke-width="0.12" font-size="10">28478.0</text>
<rect x="1645" y="612" width="2" height="1" fill="#000"/>
<text transform="translate(1650,616) scale(0.925,1)" fill="#000" stroke="#000" stroke-width="0.12" font-size="10">28320.5</text>
<rect x="5" y="34" width="1640" height="2" fill="#f00"/>
<rect x="4" y="32" width="6" height="6" fill="#f00"/>
<rect x="6" y="34" width="2" height="2" fill="#fff"/>
<rect x="1638" y="32" width="6" height="6" fill="#f00"/>
<rect x="1640" y="34" width="2" height="2" fill="#fff"/>
<rect x="1646" y="29" width="41" height="11" fill="#f00"/>
<text transform="translate(1650,38) scale(0.925,1)" fill="#fff" stroke="#fff" stroke-width="0.12" font-size="10">31120.0</text>
<rect x="5" y="55" width="1640" height="2" fill="#f00"/>
<rect x="4" y="53" width="6" height="6" fill="#f00"/>
<rect x="6" y="55" width="2" height="2" fill="#fff"/>
<rect x="1638" y="53" width="6" height="6" fill="#f00"/>
<rect x="1640" y="55" width="2" height="2" fill="#fff"/>
<rect x="1646" y="50" width="41" height="11" fill="#f00"/>
<text transform="translate(1650,59) scale(0.925,1)" fill="#fff" stroke="#fff" stroke-width="0.12" font-size="10">31022.6</text>
<rect x="5" y="99" width="1640" height="2" fill="#ffa500"/>
<rect x="4" y="97" width="6" height="6" fill="#ffa500"/>
<rect x="6" y="99" width="2" height="2" fill="#fff"/>
<rect x="1638" y="97" width="6" height="6" fill="#ffa500"/>
<rect x="1640" y="99" width="2" height="2" fill="#fff"/>
<rect x="1646" y="94" width="41" height="11" fill="#ffa500"/>
<text transform="translate(1650,103) scale(0.925,1)" fill="#fff" stroke="#fff" stroke-width="0.12" font-size="10">30806.8</text>
<rect x="5" y="124" width="1640" height="2" fill="#00f"/>
<rect x="4" y="122" width="6" height="6" fill="#00f"/>
<rect x="6" y="124" width="2" height="2" fill="#fff"/>
<rect x="1638" y="122" width="6" height="6" fill="#00f"/>
<rect x="1640" y="124" width="2" height="2" fill="#fff"/>
<rect x="1646" y="119" width="41" height="11" fill="#00f"/>
<text transform="translate(1650,128) scale(0.925,1)" fill="#fff" stroke="#fff" stroke-width="0.12" font-size="10">30686.0</text>
<rect x="5" y="152" width="1640" height="2" fill="#00f"/>
<rect x="4" y="150" width="6" height="6" fill="#00f"/>
<rect x="6" y="152" width="2" height="2" fill="#fff"/>
<rect x="1638" y="150" width="6" height="6" fill="#00f"/>
<rect x="1640" y="152" width="2" height="2" fill="#fff"/>
<rect x="1646" y="147" width="41" height="11" fill="#00f"/>
<text transform="translate(1650,156) scale(0.925,1)" fill="#fff" stroke="#fff" stroke-width="0.12" font-size="10">30547.2</text>
<rect x="1646" y="78" width="41" height="11" fill="#000"/>
<text transform="translate(1650,87) scale(0.925,1)" fill="#fff" stroke="#fff" stroke-width="0.12" font-size="10">30890.9</text>
<rect x="8" y="34" width="7" height="1" fill="#000"/>
<rect x="9" y="35" width="5" height="1" fill="#000"/>
<rect x="10" y="36" width="3" height="1" fill="#000"/>
<rect x="11" y="37" width="1" height="1" fill="#000"/>
<rect x="1409" y="28" width="9" height="1" fill="#000"/>
<rect x="1410" y="29" width="7" height="1" fill="#000"/>
<rect x="1411" y="30" width="5" height="1" fill="#000"/>
<rect x="1412" y="31" width="3" height="1" fill="#000"/>
<rect x="1413" y="32" width="1" height="1" fill="#000"/>
<g shape-rendering="geometricPrecision"><line x1="1392.5" y1="247.3" x2="1488" y2="168" stroke="#e8141c" stroke-width="3"/><polygon points="1500.5,157.5 1480.5,162 1493,176" fill="#e8141c"/></g>
<text transform="translate(8.3,630) scale(0.95,1)" fill="#000" stroke="#000" stroke-width="0.12" font-size="10">MACD(12,26,9) 356.15 308.89</text>
<rect x="4" y="707" width="3" height="2" fill="#0f0"/>
<rect x="20" y="704" width="3" height="5" fill="#0f0"/>
<rect x="36" y="704" width="3" height="5" fill="#0f0"/>
<rect x="52" y="699" width="3" height="10" fill="#0f0"/>
<rect x="68" y="692" width="3" height="17" fill="#0f0"/>
<rect x="84" y="686" width="3" height="23" fill="#0f0"/>
<rect x="100" y="681" width="3" height="28" fill="#0f0"/>
<rect x="116" y="677" width="3" height="32" fill="#0f0"/>
<rect x="132" y="673" width="3" height="36" fill="#0f0"/>
<rect x="148" y="671" width="3" height="38" fill="#0f0"/>
<rect x="164" y="668" width="3" height="41" fill="#0f0"/>
<rect x="180" y="664" width="3" height="45" fill="#0f0"/>
<rect x="196" y="662" width="3" height="47" fill="#0f0"/>
<rect x="212" y="661" width="3" height="48" fill="#0f0"/>
<rect x="228" y="663" width="3" height="46" fill="#0f0"/>
<rect x="244" y="668" width="3" height="41" fill="#0f0"/>
<rect x="260" y="677" width="3" height="32" fill="#0f0"/>
<rect x="276" y="683" width="3" height="26" fill="#0f0"/>
<rect x="292" y="689" width="3" height="20" fill="#0f0"/>
<rect x="308" y="694" width="3" height="15" fill="#0f0"/>
<rect x="324" y="697" width="3" height="12" fill="#0f0"/>
<rect x="340" y="701" width="3" height="8" fill="#0f0"/>
<rect x="356" y="704" width="3" height="5" fill="#0f0"/>
<rect x="372" y="705" width="3" height="4" fill="#0f0"/>
<rect x="388" y="708" width="3" height="1" fill="#0f0"/>
<rect x="404" y="709" width="3" height="5" fill="#0f0"/>
<rect x="420" y="709" width="3" height="5" fill="#0f0"/>
<rect x="436" y="709" width="3" height="8" fill="#0f0"/>
<rect x="452" y="709" width="3" height="11" fill="#0f0"/>
<rect x="468" y="709" width="3" height="12" fill="#0f0"/>
<rect x="484" y="709" width="3" height="14" fill="#0f0"/>
<rect x="500" y="709" width="3" height="13" fill="#0f0"/>
<rect x="516" y="709" width="3" height="12" fill="#0f0"/>
<rect x="532" y="709" width="3" height="8" fill="#0f0"/>
<rect x="548" y="709" width="3" height="3" fill="#0f0"/>
<rect x="564" y="704" width="3" height="5" fill="#0f0"/>
<rect x="580" y="699" width="3" height="10" fill="#0f0"/>
<rect x="596" y="696" width="3" height="13" fill="#0f0"/>
<rect x="612" y="696" width="3" height="13" fill="#0f0"/>
<rect x="628" y="695" width="3" height="14" fill="#0f0"/>
<rect x="644" y="695" width="3" height="14" fill="#0f0"/>
<rect x="660" y="694" width="3" height="15" fill="#0f0"/>
<rect x="676" y="693" width="3" height="16" fill="#0f0"/>
<rect x="692" y="693" width="3" height="16" fill="#0f0"/>
<rect x="708" y="690" width="3" height="19" fill="#0f0"/>
<rect x="724" y="689" width="3" height="20" fill="#0f0"/>
<rect x="740" y="687" width="3" height="22" fill="#0f0"/>
<rect x="756" y="685" width="3" height="24" fill="#0f0"/>
<rect x="772" y="684" width="3" height="25" fill="#0f0"/>
<rect x="788" y="684" width="3" height="25" fill="#0f0"/>
<rect x="804" y="687" width="3" height="22" fill="#0f0"/>
<rect x="820" y="689" width="3" height="20" fill="#0f0"/>
<rect x="836" y="693" width="3" height="16" fill="#0f0"/>
<rect x="852" y="696" width="3" height="13" fill="#0f0"/>
<rect x="868" y="697" width="3" height="12" fill="#0f0"/>
<rect x="884" y="698" width="3" height="11" fill="#0f0"/>
<rect x="900" y="698" width="3" height="11" fill="#0f0"/>
<rect x="916" y="697" width="3" height="12" fill="#0f0"/>
<rect x="932" y="699" width="3" height="10" fill="#0f0"/>
<rect x="948" y="699" width="3" height="10" fill="#0f0"/>
<rect x="964" y="698" width="3" height="11" fill="#0f0"/>
<rect x="980" y="698" width="3" height="11" fill="#0f0"/>
<rect x="996" y="695" width="3" height="14" fill="#0f0"/>
<rect x="1012" y="688" width="3" height="21" fill="#0f0"/>
<rect x="1028" y="685" width="3" height="24" fill="#0f0"/>
<rect x="1044" y="681" width="3" height="28" fill="#0f0"/>
<rect x="1060" y="678" width="3" height="31" fill="#0f0"/>
<rect x="1076" y="676" width="3" height="33" fill="#0f0"/>
<rect x="1092" y="674" width="3" height="35" fill="#0f0"/>
<rect x="1108" y="670" width="3" height="39" fill="#0f0"/>
<rect x="1124" y="666" width="3" height="43" fill="#0f0"/>
<rect x="1140" y="662" width="3" height="47" fill="#0f0"/>
<rect x="1156" y="660" width="3" height="49" fill="#0f0"/>
<rect x="1172" y="659" width="3" height="50" fill="#0f0"/>
<rect x="1188" y="658" width="3" height="51" fill="#0f0"/>
<rect x="1204" y="658" width="3" height="51" fill="#0f0"/>
<rect x="1220" y="657" width="3" height="52" fill="#0f0"/>
<rect x="1236" y="658" width="3" height="51" fill="#0f0"/>
<rect x="1252" y="660" width="3" height="49" fill="#0f0"/>
<rect x="1268" y="661" width="3" height="48" fill="#0f0"/>
<rect x="1284" y="660" width="3" height="49" fill="#0f0"/>
<rect x="1300" y="655" width="3" height="54" fill="#0f0"/>
<rect x="1316" y="649" width="3" height="60" fill="#0f0"/>
<rect x="1332" y="644" width="3" height="65" fill="#0f0"/>
<rect x="1348" y="640" width="3" height="69" fill="#0f0"/>
<rect x="1364" y="638" width="3" height="71" fill="#0f0"/>
<rect x="1380" y="637" width="3" height="72" fill="#0f0"/>
<rect x="1396" y="630" width="3" height="79" fill="#0f0"/>
<rect x="1412" y="627" width="3" height="82" fill="#0f0"/>
<rect x="1428" y="625" width="3" height="84" fill="#0f0"/>
<rect x="1444" y="623" width="3" height="86" fill="#0f0"/>
<rect x="2" y="618" width="2" height="109" fill="#fff"/>
<rect x="4" y="617" width="1" height="111" fill="#000"/>
<polyline points="5.5,719.8 21.5,718.6 37.5,717.0 53.5,714.0 69.5,710.0 85.5,705.6 101.5,700.4 117.5,696.7 133.5,692.6 149.5,687.4 165.5,683.7 181.5,679.6 197.5,675.4 213.5,671.4 229.5,669.5 245.5,667.0 261.5,667.6 277.5,668.4 293.5,670.2 309.5,673.0 325.5,676.8 341.5,680.8 357.5,686.0 373.5,691.5 389.5,695.5 405.5,699.3 421.5,703.2 437.5,706.1 453.5,708.4 469.5,711.2 485.5,713.3 501.5,715.0 517.5,717.8 533.5,717.8 549.5,717.8 565.5,717.5 581.5,715.6 597.5,712.7 613.5,710.4 629.5,708.0 645.5,705.2 661.5,702.1 677.5,699.0 693.5,696.7 709.5,695.2 725.5,694.5 741.5,693.4 757.5,691.5 773.5,690.7 789.5,689.6 805.5,688.0 821.5,687.7 837.5,687.7 853.5,688.2 869.5,689.3 885.5,690.3 901.5,692.2 917.5,693.1 933.5,695.0 949.5,696.4 965.5,697.6 981.5,697.8 997.5,697.8 1013.5,697.6 1029.5,696.7 1045.5,694.3 1061.5,692.9 1077.5,690.3 1093.5,686.7 1109.5,683.4 1125.5,679.2 1141.5,676.1 1157.5,672.7 1173.5,670.7 1189.5,667.6 1205.5,665.7 1221.5,663.8 1237.5,661.4 1253.5,660.5 1269.5,659.6 1285.5,659.1 1301.5,658.8 1317.5,657.7 1333.5,655.5 1349.5,653.6 1365.5,651.8 1381.5,649.9 1397.5,647.0 1413.5,643.0 1429.5,639.0 1445.5,635.9" fill="none" stroke="#f00" stroke-width="2" shape-rendering="crispEdges"/>
<rect x="1645" y="709" width="1" height="1" fill="#000"/>
<rect x="1645" y="619" width="1" height="1" fill="#000"/>
<rect x="1645" y="726" width="1" height="1" fill="#000"/>
<rect x="1645" y="731" width="1" height="1" fill="#000"/>
<text transform="translate(1648,628) scale(0.95,1)" fill="#000" stroke="#000" stroke-width="0.12" font-size="10">376.67</text>
<text transform="translate(1648,713) scale(0.95,1)" fill="#000" stroke="#000" stroke-width="0.12" font-size="10">0.00</text>
<text transform="translate(1648,724) scale(0.95,1)" fill="#000" stroke="#000" stroke-width="0.12" font-size="10">-74.88</text>
<text transform="translate(8.3,742) scale(0.95,1)" fill="#000" stroke="#000" stroke-width="0.12" font-size="10">RSI(14) 85.7695</text>
<line x1="6" y1="751.5" x2="1642" y2="751.5" stroke="#000" stroke-width="1" stroke-dasharray="3 3"/>
<line x1="6" y1="782.5" x2="1642" y2="782.5" stroke="#000" stroke-width="1" stroke-dasharray="3 3"/>
<line x1="6" y1="818.5" x2="1642" y2="818.5" stroke="#000" stroke-width="1" stroke-dasharray="3 3"/>
<polyline points="5.5,767.6 21.5,770.9 37.5,779.4 53.5,769.3 69.5,764.6 85.5,762.4 101.5,761.7 117.5,761.7 133.5,760.0 149.5,759.6 165.5,757.2 181.5,755.6 197.5,755.3 213.5,757.9 229.5,765.7 245.5,773.5 261.5,788.9 277.5,785.8 293.5,786.8 309.5,786.8 325.5,784.9 341.5,788.0 357.5,788.0 373.5,781.8 389.5,787.6 405.5,792.4 421.5,785.8 437.5,789.8 453.5,789.8 469.5,789.8 485.5,789.8 501.5,786.5 517.5,783.7 533.5,780.6 549.5,771.6 565.5,767.9 581.5,769.5 597.5,771.2 613.5,777.8 629.5,775.0 645.5,777.0 661.5,774.2 677.5,773.5 693.5,773.5 709.5,767.9 725.5,771.9 741.5,769.5 757.5,768.6 773.5,767.9 789.5,767.9 805.5,779.4 821.5,779.9 837.5,783.5 853.5,783.9 869.5,781.1 885.5,779.4 901.5,776.6 917.5,773.5 933.5,782.0 949.5,778.0 965.5,777.6 981.5,776.8 997.5,766.2 1013.5,760.5 1029.5,764.8 1045.5,763.4 1061.5,762.9 1077.5,762.9 1093.5,761.7 1109.5,757.5 1125.5,756.7 1141.5,753.7 1157.5,753.8 1173.5,757.8 1189.5,756.4 1205.5,755.7 1221.5,755.7 1237.5,755.7 1253.5,759.5 1269.5,759.5 1285.5,753.3 1301.5,749.1 1317.5,746.7 1333.5,745.1 1349.5,744.8 1365.5,744.8 1381.5,744.8 1397.5,740.3 1413.5,746.0 1429.5,746.0 1445.5,746.0" fill="none" stroke="#1e90ff" stroke-width="2" shape-rendering="crispEdges"/>
<text transform="translate(1648,740) scale(0.95,1)" fill="#000" stroke="#000" stroke-width="0.12" font-size="10">100</text>
<text transform="translate(1647,755) scale(0.95,1)" fill="#000" stroke="#000" stroke-width="0.12" font-size="10">80</text>
<text transform="translate(1647,786) scale(0.95,1)" fill="#000" stroke="#000" stroke-width="0.12" font-size="10">50</text>
<text transform="translate(1648,822) scale(0.95,1)" fill="#000" stroke="#000" stroke-width="0.12" font-size="10">15</text>
<text transform="translate(1648,831) scale(0.95,1)" fill="#000" stroke="#000" stroke-width="0.12" font-size="10">0</text>
<rect x="4" y="617" width="1" height="111" fill="#000"/>
<rect x="4" y="729" width="1" height="106" fill="#000"/>
<rect x="5" y="835" width="1" height="3" fill="#000"/>
<text transform="translate(4,847) scale(0.965,1)" fill="#000" stroke="#000" stroke-width="0.12" font-size="10">27 Apr 2023</text>
<rect x="69" y="835" width="1" height="3" fill="#000"/>
<text transform="translate(68,847) scale(0.965,1)" fill="#000" stroke="#000" stroke-width="0.12" font-size="10">28 Apr 10:55</text>
<rect x="133" y="835" width="1" height="3" fill="#000"/>
<text transform="translate(132,847) scale(0.965,1)" fill="#000" stroke="#000" stroke-width="0.12" font-size="10">1 May 00:00</text>
<rect x="197" y="835" width="1" height="3" fill="#000"/>
<text transform="translate(196,847) scale(0.965,1)" fill="#000" stroke="#000" stroke-width="0.12" font-size="10">1 May 18:55</text>
<rect x="261" y="835" width="1" height="3" fill="#000"/>
<text transform="translate(260,847) scale(0.965,1)" fill="#000" stroke="#000" stroke-width="0.12" font-size="10">2 May 10:55</text>
<rect x="325" y="835" width="1" height="3" fill="#000"/>
<text transform="translate(324,847) scale(0.965,1)" fill="#000" stroke="#000" stroke-width="0.12" font-size="10">3 May 00:00</text>
<rect x="389" y="835" width="1" height="3" fill="#000"/>
<text transform="translate(388,847) scale(0.965,1)" fill="#000" stroke="#000" stroke-width="0.12" font-size="10">3 May 18:55</text>
<rect x="453" y="835" width="1" height="3" fill="#000"/>
<text transform="translate(452,847) scale(0.965,1)" fill="#000" stroke="#000" stroke-width="0.12" font-size="10">4 May 10:55</text>
<rect x="517" y="835" width="1" height="3" fill="#000"/>
<text transform="translate(516,847) scale(0.965,1)" fill="#000" stroke="#000" stroke-width="0.12" font-size="10">5 May 00:00</text>
<rect x="581" y="835" width="1" height="3" fill="#000"/>
<text transform="translate(580,847) scale(0.965,1)" fill="#000" stroke="#000" stroke-width="0.12" font-size="10">5 May 18:55</text>
<rect x="645" y="835" width="1" height="3" fill="#000"/>
<text transform="translate(644,847) scale(0.965,1)" fill="#000" stroke="#000" stroke-width="0.12" font-size="10">8 May 10:55</text>
<rect x="709" y="835" width="1" height="3" fill="#000"/>
<text transform="translate(708,847) scale(0.965,1)" fill="#000" stroke="#000" stroke-width="0.12" font-size="10">9 May 00:00</text>
<rect x="773" y="835" width="1" height="3" fill="#000"/>
<text transform="translate(772,847) scale(0.965,1)" fill="#000" stroke="#000" stroke-width="0.12" font-size="10">9 May 18:55</text>
<rect x="837" y="835" width="1" height="3" fill="#000"/>
<text transform="translate(836,847) scale(0.965,1)" fill="#000" stroke="#000" stroke-width="0.12" font-size="10">10 May 10:55</text>
<rect x="901" y="835" width="1" height="3" fill="#000"/>
<text transform="translate(900,847) scale(0.965,1)" fill="#000" stroke="#000" stroke-width="0.12" font-size="10">11 May 00:00</text>
<rect x="965" y="835" width="1" height="3" fill="#000"/>
<text transform="translate(964,847) scale(0.965,1)" fill="#000" stroke="#000" stroke-width="0.12" font-size="10">11 May 18:55</text>
<rect x="1029" y="835" width="1" height="3" fill="#000"/>
<text transform="translate(1028,847) scale(0.965,1)" fill="#000" stroke="#000" stroke-width="0.12" font-size="10">12 May 10:55</text>
<rect x="1093" y="835" width="1" height="3" fill="#000"/>
<text transform="translate(1092,847) scale(0.965,1)" fill="#000" stroke="#000" stroke-width="0.12" font-size="10">15 May 00:00</text>
<rect x="1157" y="835" width="1" height="3" fill="#000"/>
<text transform="translate(1156,847) scale(0.965,1)" fill="#000" stroke="#000" stroke-width="0.12" font-size="10">15 May 18:55</text>
<rect x="1221" y="835" width="1" height="3" fill="#000"/>
<text transform="translate(1220,847) scale(0.965,1)" fill="#000" stroke="#000" stroke-width="0.12" font-size="10">16 May 10:55</text>
<rect x="1285" y="835" width="1" height="3" fill="#000"/>
<text transform="translate(1284,847) scale(0.965,1)" fill="#000" stroke="#000" stroke-width="0.12" font-size="10">17 May 00:00</text>
<rect x="1349" y="835" width="1" height="3" fill="#000"/>
<text transform="translate(1348,847) scale(0.965,1)" fill="#000" stroke="#000" stroke-width="0.12" font-size="10">17 May 18:55</text>
<rect x="1413" y="835" width="1" height="3" fill="#000"/>
<text transform="translate(1412,847) scale(0.965,1)" fill="#000" stroke="#000" stroke-width="0.12" font-size="10">18 May 10:55</text>
</svg>
</body></html>
